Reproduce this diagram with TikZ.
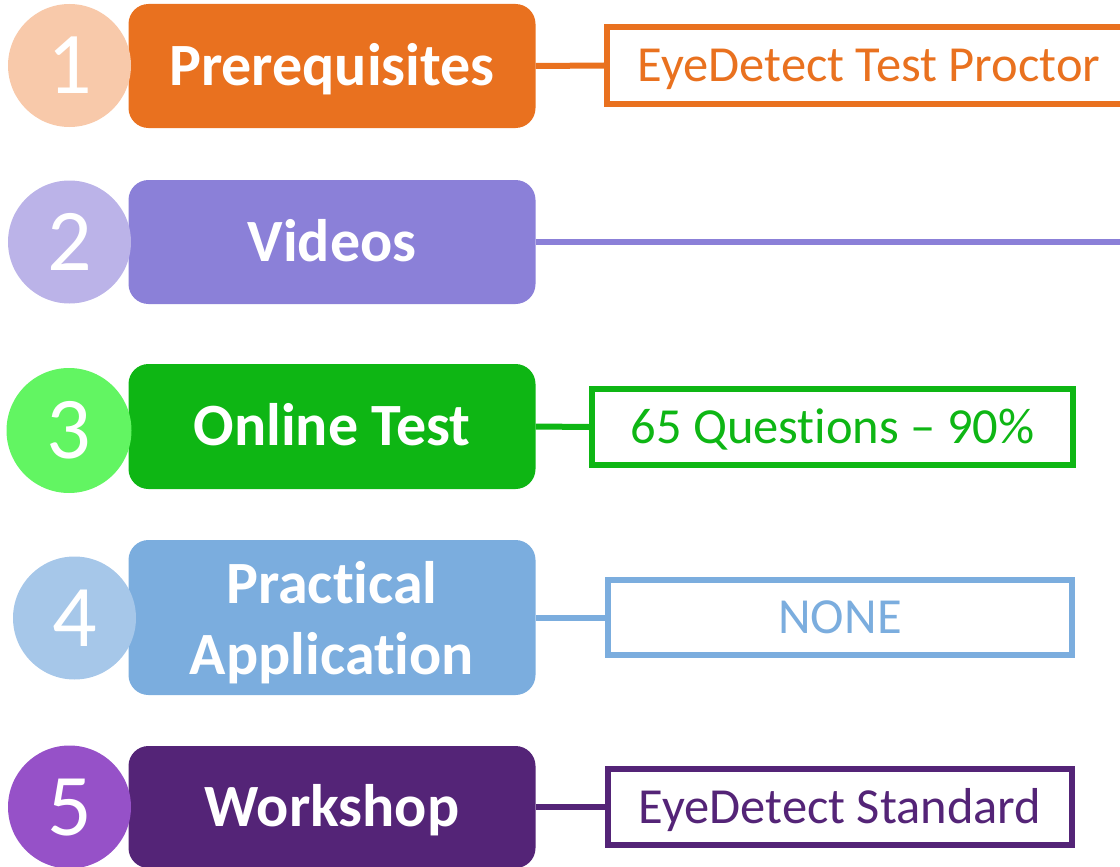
\documentclass[tikz,border=0pt]{standalone}
\usepackage{fontspec}
\setmainfont{Carlito}[Ligatures=NoCommon]
\definecolor{orA}{HTML}{E9711F}
\definecolor{orC}{HTML}{F8C9AA}
\definecolor{puA}{HTML}{8B80D8}
\definecolor{puC}{HTML}{BBB3E8}
\definecolor{grA}{HTML}{0EB614}
\definecolor{grC}{HTML}{62F562}
\definecolor{blA}{HTML}{7BADDE}
\definecolor{blC}{HTML}{A6C7E9}
\definecolor{dpA}{HTML}{542477}
\definecolor{dpC}{HTML}{9651C8}
\begin{document}
\begin{tikzpicture}[x=1pt,y=-1pt,
  stagebox/.style={rectangle, rounded corners=20pt, minimum width=407pt, minimum height=124pt, inner sep=0pt, text=white, font=\fontsize{60}{71}\selectfont\bfseries},
  captxt/.style={text height=38.6pt, text depth=0pt},
  numc/.style={circle, minimum size=123pt, inner sep=0pt, text=white, font=\fontsize{88}{88}\selectfont, text height=56pt, text depth=0pt},
  detailbox/.style={rectangle, line width=6pt, fill=white, inner sep=0pt, minimum height=76pt, font=\fontsize{50.5}{60}\selectfont, text height=32.2pt, text depth=0pt},
  conn/.style={line width=6pt}]
\useasboundingbox (0,0) rectangle (1120,867);
\begin{scope}
\clip (0,0) rectangle (1120,867);
% row 1
\node (b1) [stagebox, captxt, fill=orA] at (332,66) {Prerequisites};
\node (c1) [numc, fill=orC] at (69.5,65.5) {1};
\node (r1) [detailbox, draw=orA, text=orA, minimum width=524pt, minimum height=77pt] at (869,65.5) {EyeDetect Test Proctor};
\draw[conn, orA] (b1.east) -- (r1.west);
% row 2
\node (b2) [stagebox, captxt, fill=puA] at (332,242) {Videos};
\node (c2) [numc, fill=puC] at (69.5,242) {2};
\coordinate (e2) at (1125,242);
\draw[conn, puA] (b2.east) -- (e2);
% row 3
\node (b3) [stagebox, captxt, fill=grA, minimum height=125pt] at (332,426.5) {Online Test};
\node (c3) [numc, fill=grC, minimum size=125pt] at (69,430.5) {3};
\node (r3) [detailbox, draw=grA, text=grA, minimum width=481pt] at (832.5,427) {65 Quest\kern0pt ions – 90\%};
\draw[conn, grA] (b3.east) -- (r3.west);
% row 4
\node (b4) [stagebox, fill=blA, minimum height=155pt] at (332,617.5) {};
\node (t4) [text=white, font=\fontsize{60}{71}\selectfont\bfseries, align=center, inner sep=0pt] at (332,623) {Practical\\Applicat\kern0pt ion};
\node (c4) [numc, fill=blC] at (74.5,618) {4};
\node (r4) [detailbox, draw=blA, text=blA, minimum width=464pt, minimum height=75pt] at (840,617.5) {NONE};
\draw[conn, blA] (b4.east) -- (r4.west);
% row 5
\node (b5) [stagebox, captxt, fill=dpA, minimum height=122pt] at (332,807) {Workshop};
\node (c5) [numc, fill=dpC] at (69.5,807) {5};
\node (r5) [detailbox, draw=dpA, text=dpA, minimum width=464pt] at (840,807) {EyeDetect Standard};
\draw[conn, dpA] (b5.east) -- (r5.west);
\end{scope}
\end{tikzpicture}
\end{document}
